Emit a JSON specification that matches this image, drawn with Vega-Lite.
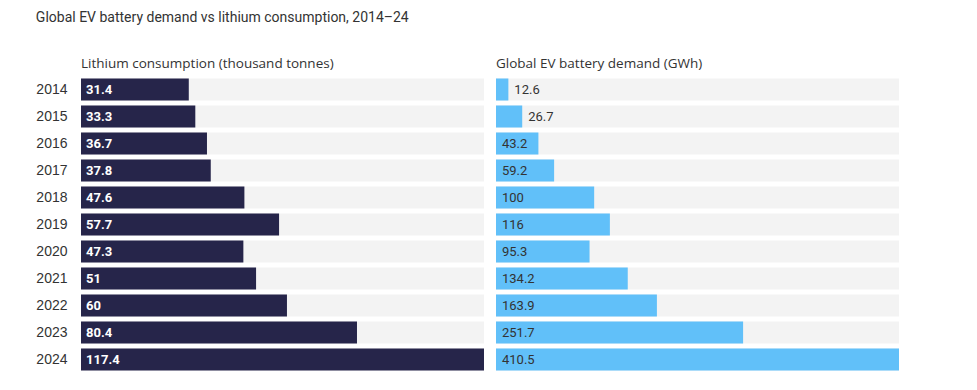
{
  "$schema": "https://vega.github.io/schema/vega-lite/v6.json",
  "background": "white",
  "padding": {"left": 35, "top": 10, "right": 5, "bottom": 5},
  "title": {"text": "Global EV battery demand vs lithium consumption, 2014–24", "anchor": "start", "fontSize": 14, "fontWeight": "normal", "font": "Roboto", "color": "#333333", "offset": 32},
  "data": {"values": [
    {"year": "2014", "lithium": 31.4, "demand": 12.6},
    {"year": "2015", "lithium": 33.3, "demand": 26.7},
    {"year": "2016", "lithium": 36.7, "demand": 43.2},
    {"year": "2017", "lithium": 37.8, "demand": 59.2},
    {"year": "2018", "lithium": 47.6, "demand": 100},
    {"year": "2019", "lithium": 57.7, "demand": 116},
    {"year": "2020", "lithium": 47.3, "demand": 95.3},
    {"year": "2021", "lithium": 51, "demand": 134.2},
    {"year": "2022", "lithium": 60, "demand": 163.9},
    {"year": "2023", "lithium": 80.4, "demand": 251.7},
    {"year": "2024", "lithium": 117.4, "demand": 410.5}
  ]},
  "spacing": 12,
  "config": {"view": {"stroke": null}},
  "hconcat": [
    {
      "width": 403,
      "height": 297,
      "title": {"text": "Lithium consumption (thousand tonnes)", "anchor": "start", "frame": "group", "fontSize": 13.5, "fontWeight": "normal", "font": "Open Sans", "color": "#333333", "offset": 6},
      "encoding": {
        "y": {"field": "year", "type": "nominal", "sort": null,
          "scale": {"paddingInner": 0.185, "paddingOuter": 0.0925},
          "axis": {"title": null, "ticks": false, "domain": false, "labelPadding": 14, "labelFontSize": 14, "labelFont": "Liberation Sans", "labelColor": "#333333"}}
      },
      "layer": [
        {"mark": {"type": "bar", "color": "#f3f3f3"}, "encoding": {"x": {"value": 0}, "x2": {"value": "width"}}},
        {"mark": {"type": "bar", "color": "#26254a"}, "encoding": {"x": {"field": "lithium", "type": "quantitative", "scale": {"domain": [0, 117.4], "nice": false}, "axis": null}}},
        {"mark": {"type": "text", "align": "left", "dx": 5, "color": "white", "fontSize": 13, "fontWeight": "bold", "font": "Roboto"},
         "encoding": {"x": {"datum": 0, "type": "quantitative"}, "text": {"field": "lithium", "type": "quantitative"}}}
      ]
    },
    {
      "width": 403,
      "height": 297,
      "title": {"text": "Global EV battery demand (GWh)", "anchor": "start", "frame": "group", "fontSize": 13.5, "fontWeight": "normal", "font": "Open Sans", "color": "#333333", "offset": 6},
      "encoding": {
        "y": {"field": "year", "type": "nominal", "sort": null,
          "scale": {"paddingInner": 0.185, "paddingOuter": 0.0925},
          "axis": null}
      },
      "layer": [
        {"mark": {"type": "bar", "color": "#f3f3f3"}, "encoding": {"x": {"value": 0}, "x2": {"value": "width"}}},
        {"mark": {"type": "bar", "color": "#61c0f9"}, "encoding": {"x": {"field": "demand", "type": "quantitative", "scale": {"domain": [0, 410.5], "nice": false}, "axis": null}}},
        {"transform": [{"filter": "datum.demand >= 40"}],
         "mark": {"type": "text", "align": "left", "dx": 6, "color": "#333333", "fontSize": 13, "font": "Roboto"},
         "encoding": {"x": {"datum": 0, "type": "quantitative"}, "text": {"field": "demand", "type": "quantitative"}}},
        {"transform": [{"filter": "datum.demand < 40"}],
         "mark": {"type": "text", "align": "left", "dx": 6, "color": "#333333", "fontSize": 13, "font": "Roboto"},
         "encoding": {"x": {"field": "demand", "type": "quantitative"}, "text": {"field": "demand", "type": "quantitative"}}}
      ]
    }
  ]
}
